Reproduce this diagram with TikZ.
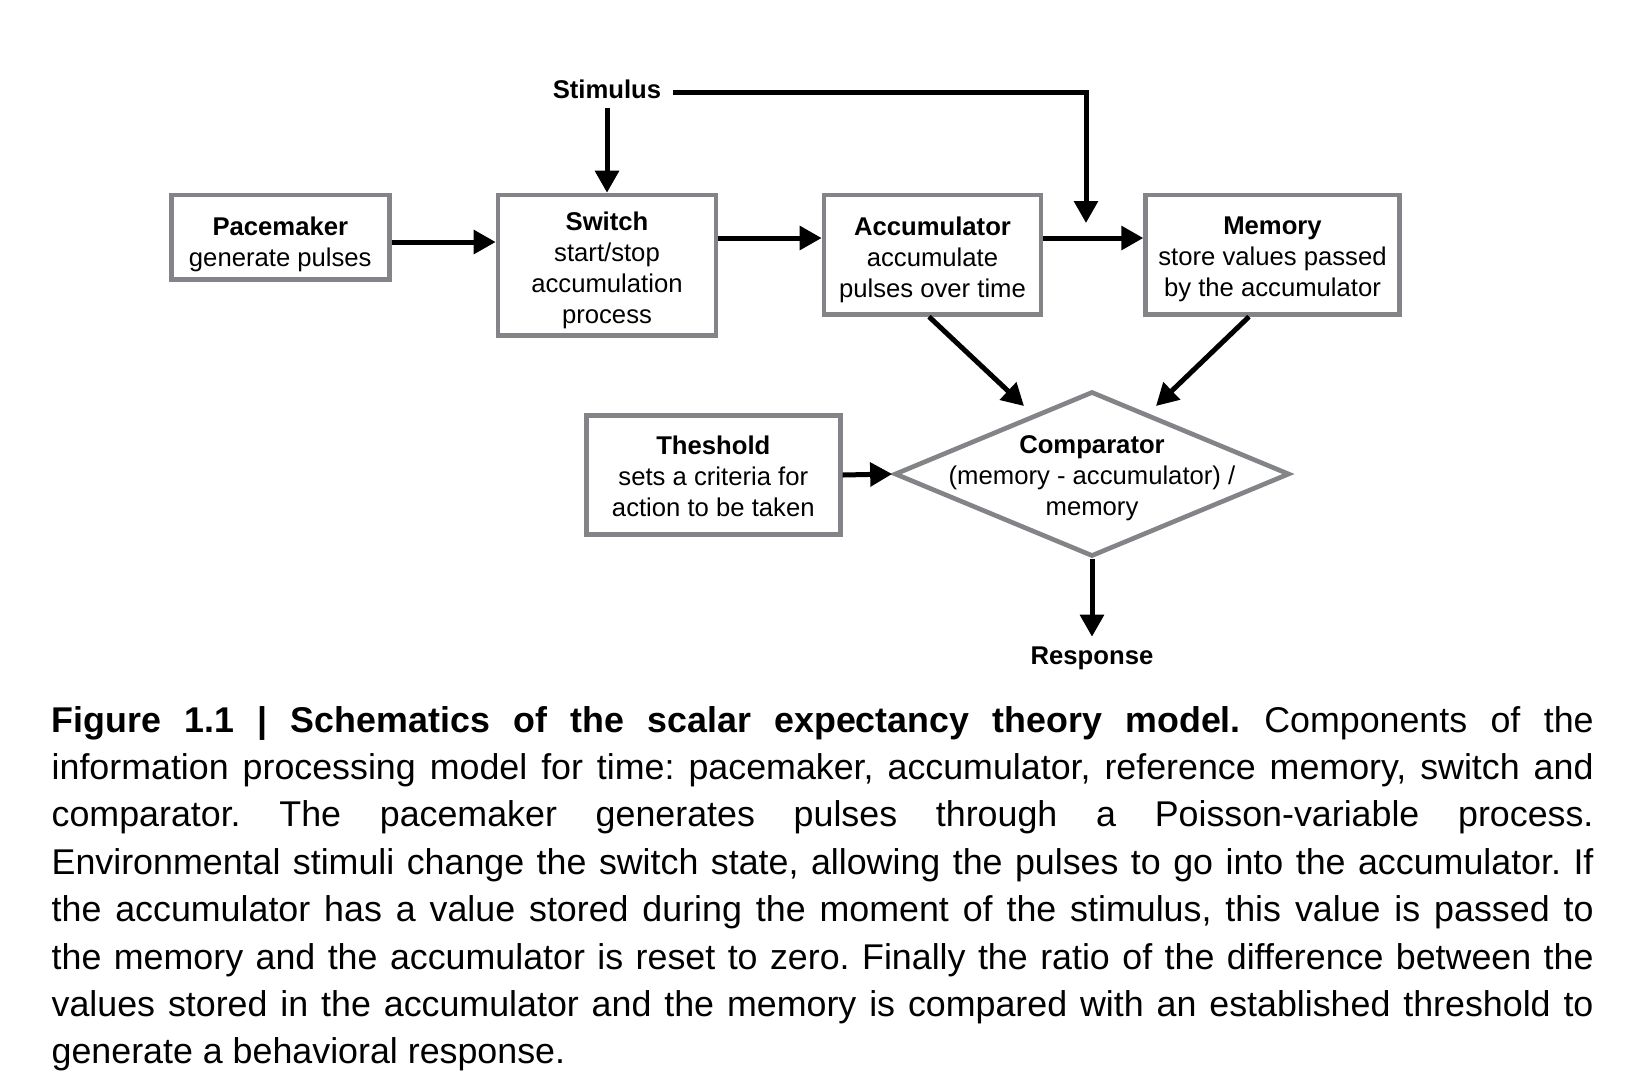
\documentclass[tikz,border=0pt]{standalone}
\usepackage{fontspec}
\setmainfont{Liberation Sans}
\usetikzlibrary{arrows.meta,shapes.geometric}
\definecolor{boxgray}{RGB}{130,132,135}
\begin{document}
\frenchspacing
\begin{tikzpicture}[x=0.3pt,y=-0.3pt,
  frame/.style={draw=boxgray, line width=1.4pt, fill=white, inner sep=0pt},
  btext/.style={inner sep=0pt, align=center, font=\fontsize{7.7}{9.3}\selectfont},
  lbl/.style={font=\fontsize{7.7}{9.3}\selectfont\bfseries, inner xsep=3.4pt, inner ysep=2.7pt},
  arr/.style={line width=1.5pt, -{Triangle[length=6.6pt,width=7pt]}},
  capline/.style={inner sep=0pt, anchor=base west, font=\fontsize{10.74}{14.2}\selectfont}]
\useasboundingbox (0,0) rectangle (1641,1085);

% frames
\node[frame, minimum width=65.4pt, minimum height=25.4pt] (pace) at (280.3,237.3) {};
\node[frame, minimum width=65.4pt, minimum height=42.1pt] (sw) at (607,265.2) {};
\node[frame, minimum width=65.1pt, minimum height=35.8pt] (acc) at (932.5,254.7) {};
\node[frame, minimum width=76.1pt, minimum height=35.8pt] (mem) at (1272.5,254.7) {};
\node[frame, minimum width=76.2pt, minimum height=35.6pt] (thr) at (713.3,475) {};
\node[draw=boxgray, line width=1.4pt, diamond, inner sep=0pt,
  minimum width=118.5pt, minimum height=49.5pt] (cmp) at (1092,474) {};

% texts
\node[btext] (paceT) at (280.3,244.3) {\textbf{Pacemaker}\\generate pulses};
\node[btext] (swT) at (607,270.2) {\textbf{Switch}\\start/stop\\accumulation\\process};
\node[btext] (accT) at (932.5,259.8) {\textbf{Accumulator}\\accumulate\\pulses over time};
\node[btext] (memT) at (1272.5,259.4) {\textbf{Memory}\\store values passed\\by the accumulator};
\node[btext] (thrT) at (713.3,476.5) {\textbf{Theshold}\\sets a criteria for\\action to be taken};
\node[btext] (cmpT) at (1092,478.4) {\textbf{Comparator}\\(memory - accumulator) /\\memory};

% labels
\node[lbl, anchor=base] (stim) at (607,98) {Stimulus};
\node[lbl, anchor=base] (resp) at (1092,664) {Response};
\coordinate (stimend) at (1086,223);
\coordinate (accend) at (1024,406);
\coordinate (memend) at (1156,406);

% connectors
\draw[arr] (stim.south) -- (sw.north);
\draw[arr] ([yshift=-1.1pt]stim.east) -| (stimend);
\draw[arr] (pace.east |- 0,242) -- (sw.west |- 0,242);
\draw[arr] (sw.east |- 0,238) -- (acc.west |- 0,238);
\draw[arr] (acc.east |- 0,238) -- (mem.west |- 0,238);
\draw[arr] (acc.south -| 929,0) -- (accend);
\draw[arr] (mem.south -| 1249,0) -- (memend);
\draw[arr] (thr.east) -- (cmp.west);
\draw[arr] (cmp.south) -- (resp.north);

% caption
\node[capline] (c1) at (51,732) {\makebox[462.6pt][s]{\textbf{Figure 1.1 | Schematics of the scalar expectancy theory model.} Components of the}};
\node[capline] (c2) at (51,779.4) {\makebox[462.6pt][s]{information processing model for time: pacemaker, accumulator, reference memory, switch and}};
\node[capline] (c3) at (51,826.8) {\makebox[462.6pt][s]{comparator. The pacemaker generates pulses through a Poisson-variable process.}};
\node[capline] (c4) at (51,874.2) {\makebox[462.6pt][s]{Environmental stimuli change the switch state, allowing the pulses to go into the accumulator. If}};
\node[capline] (c5) at (51,921.6) {\makebox[462.6pt][s]{the accumulator has a value stored during the moment of the stimulus, this value is passed to}};
\node[capline] (c6) at (51,969) {\makebox[462.6pt][s]{the memory and the accumulator is reset to zero. Finally the ratio of the difference between the}};
\node[capline] (c7) at (51,1016.4) {\makebox[462.6pt][s]{values stored in the accumulator and the memory is compared with an established threshold to}};
\node[capline] (c8) at (51,1063.8) {generate a behavioral response.};
\end{tikzpicture}
\end{document}
